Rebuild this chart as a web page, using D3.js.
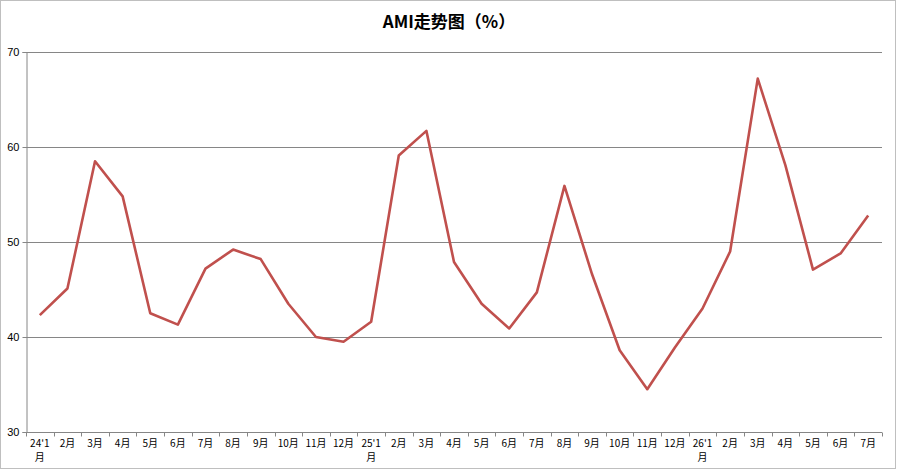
<!DOCTYPE html>
<html>
<head>
<meta charset="utf-8">
<script src="https://cdn.jsdelivr.net/npm/d3@7"></script>
<style>
  body { margin: 0; background: #fff; }
  svg { display: block; }
</style>
</head>
<body>
<div id="chart"></div>
<script>
// month labels, "24'1月" gets wrapped by the layout below
const months = ["24'1月","2月","3月","4月","5月","6月","7月","8月","9月","10月","11月","12月",
  "25'1月","2月","3月","4月","5月","6月","7月","8月","9月","10月","11月","12月",
  "26'1月","2月","3月","4月","5月","6月","7月"];
const ami = [42.3,45.1,58.5,54.8,42.5,41.3,47.2,49.2,48.2,43.5,40.0,39.5,
  41.6,59.1,61.7,47.9,43.5,40.9,44.7,55.9,46.6,38.6,34.5,38.9,
  43.0,49.0,67.2,58.1,47.1,48.8,52.8];
const yTicks = [30,40,50,60,70];

const width = 898, height = 471;
const margin = {top: 52, right: 16, bottom: 39, left: 26};

const svg = d3.select("#chart").append("svg")
    .attr("width", width)
    .attr("height", height);

// outer frame
svg.append("rect")
    .attr("x", 0.5).attr("y", 0.5)
    .attr("width", width - 3).attr("height", height - 3)
    .attr("fill", "#fff")
    .attr("stroke", "#bfbfbf");

svg.append("text")
    .attr("x", width / 2)
    .attr("y", 28)
    .attr("text-anchor", "middle")
    .style("font-family", "'Noto Sans CJK SC', 'Liberation Sans', sans-serif")
    .style("font-weight", "bold")
    .style("font-size", "17px")
    .text("AMI走势图（%）");

const x = d3.scaleBand()
    .domain(d3.range(months.length))
    .range([margin.left, width - margin.right])
    .paddingInner(0).paddingOuter(0);

const y = d3.scaleLinear()
    .domain([30, 70])
    .range([height - margin.bottom, margin.top]);

// gridlines
svg.append("g")
  .selectAll("line")
  .data(yTicks.filter(d => d > 30))
  .join("line")
    .attr("x1", margin.left)
    .attr("x2", width - margin.right)
    .attr("y1", d => Math.round(y(d)) + 0.5)
    .attr("y2", d => Math.round(y(d)) + 0.5)
    .attr("stroke", "#868686");

// y axis
const yAxis = svg.append("g")
    .attr("transform", `translate(${margin.left + 0.5},0)`)
    .call(d3.axisLeft(y).tickValues(yTicks).tickSize(4).tickPadding(3));
yAxis.select(".domain").attr("stroke", "#868686");
yAxis.selectAll(".tick line").attr("stroke", "#868686");
yAxis.selectAll(".tick text")
    .attr("fill", "#000")
    .style("font-family", "'Liberation Sans', Arial, sans-serif")
    .style("font-size", "11px");

// x axis: ticks at category boundaries
const xBase = Math.round(y(30)) + 0.5;
const xg = svg.append("g");
xg.append("line")
    .attr("x1", margin.left).attr("x2", width - margin.right)
    .attr("y1", xBase).attr("y2", xBase)
    .attr("stroke", "#868686");
xg.selectAll("line.tk")
  .data(d3.range(months.length + 1))
  .join("line")
    .attr("class", "tk")
    .attr("x1", i => Math.round(margin.left + i * x.step()) + 0.5)
    .attr("x2", i => Math.round(margin.left + i * x.step()) + 0.5)
    .attr("y1", xBase).attr("y2", xBase + 4)
    .attr("stroke", "#868686");

// split the year labels into two lines, one text element per line
const labelLines = [];
months.forEach((d, i) => {
  const parts = d.includes("'") ? [d.slice(0, -1), "月"] : [d];
  parts.forEach((s, k) => labelLines.push({i: i, k: k, s: s}));
});

xg.selectAll("text")
  .data(labelLines)
  .join("text")
    .attr("x", d => x(d.i) + x.bandwidth() / 2)
    .attr("y", d => 447 + d.k * 14)
    .attr("text-anchor", "middle")
    .style("font-family", "'Noto Sans CJK SC', 'Liberation Sans', sans-serif")
    .style("font-size", "10px")
    .attr("fill", "#000")
    .text(d => d.s);

// AMI line
const line = d3.line()
    .x((d, i) => x(i) + x.bandwidth() / 2)
    .y(d => y(d));

svg.append("path")
    .datum(ami)
    .attr("fill", "none")
    .attr("stroke", "#C0504D")
    .attr("stroke-width", 2.6)
    .attr("stroke-linejoin", "round")
    .attr("d", line);
</script>
</body>
</html>
